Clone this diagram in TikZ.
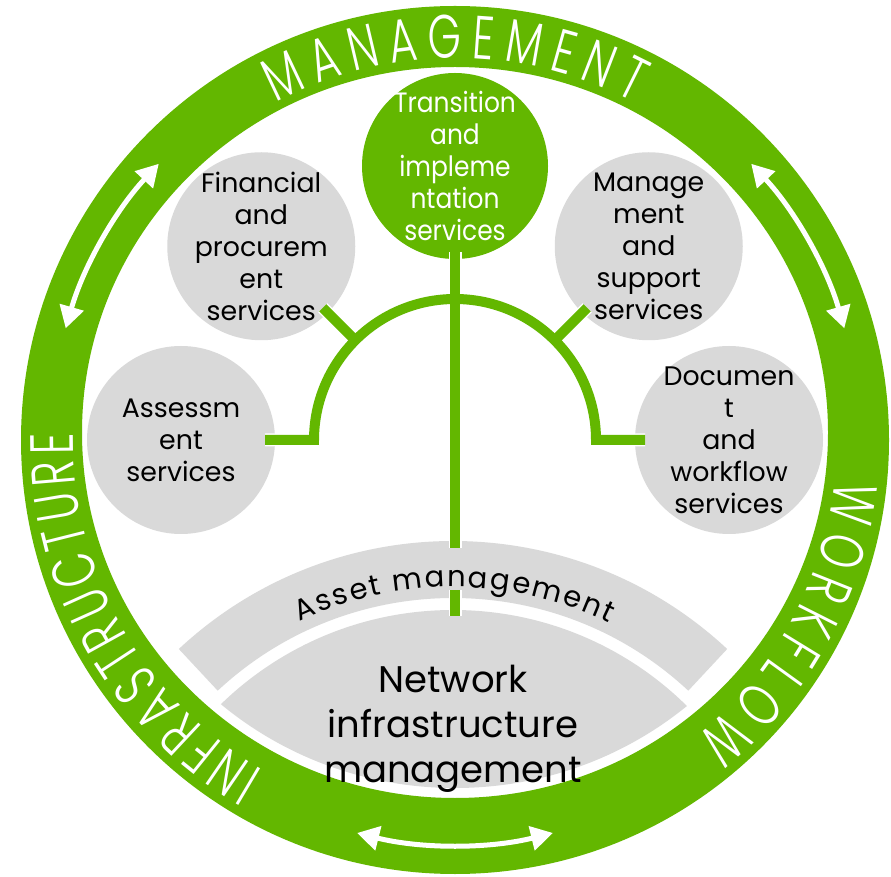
\documentclass[tikz,border=0pt]{standalone}
\usepackage{fontspec}
\setmainfont{Poppins}
\newfontfamily\ringfont[FakeStretch=0.7]{Poppins Light}
\newfontfamily\narrowfont[FakeStretch=0.89]{Poppins}
\usetikzlibrary{decorations.text,arrows.meta,calc}
\definecolor{lgreen}{HTML}{63B700}
\definecolor{lgrey}{HTML}{D9D9D9}
\tikzset{
  svc/.style={circle, fill=lgrey, minimum size=188pt, inner sep=0pt},
  svctext/.style={font=\fontsize{26.8}{32}\selectfont, align=center, inner sep=0pt},
  link/.style={draw=lgreen, line width=10pt},
  linkhalo/.style={draw=white, line width=13pt},
  ringarrow/.style={white, line width=5pt, {Triangle[length=22pt,width=24pt,fill=white]}-{Triangle[length=22pt,width=24pt,fill=white]}},
}
\begin{document}
\begin{tikzpicture}[x=1pt,y=1pt]
\useasboundingbox (0,0) rectangle (891,876);
\fill[white] (0,0) rectangle (891,876);
\coordinate (C) at (455,436);
\coordinate (hub) at (455,436);
\coordinate (B) at (453,-67);
% ring
\fill[lgreen, even odd rule] (C) circle[radius=434] (455,443.5) ellipse[x radius=373, y radius=365.5];
% ring texts
\path[decorate, decoration={text along path, text align=fit to path, text color=white,
  text={|\ringfont\fontsize{61}{61}\selectfont|MANAGEMENT}}]
  ($(C)+(118:382)$) arc[start angle=118, end angle=62, radius=382];
\path[decorate, decoration={text along path, text align=fit to path, text color=white,
  text={|\ringfont\fontsize{61}{61}\selectfont|INFRASTRUCTURE}}]
  ($(C)+(240:382)$) arc[start angle=240, end angle=179, radius=382];
\path[decorate, decoration={text along path, text align=fit to path, text color=white,
  text={|\ringfont\fontsize{61}{61}\selectfont|WORKFLOW}}]
  ($(C)+(-6:382)$) arc[start angle=-6, end angle=-51, radius=382];
% ring arrows
\draw[ringarrow] ($(C)+(137:405)$) arc[start angle=137, end angle=164, radius=405];
\draw[ringarrow] ($(C)+(43:405)$) arc[start angle=43, end angle=16, radius=405];
\draw[ringarrow] ($(C)+(256:405)$) arc[start angle=256, end angle=284, radius=405];
% asset management band
\fill[lgrey] ($(B)+(47:402)$) arc[start angle=47, end angle=133, radius=402]
  -- ($(B)+(133:345)$) arc[start angle=133, end angle=47, radius=345] -- cycle;
\path[decorate, decoration={text along path, text align=fit to path,
  text={|\fontsize{29}{29}\selectfont|Asset management}}]
  ($(B)+(115.5:356)$) arc[start angle=115.5, end angle=64, radius=356];
% network lens
\begin{scope}
  \clip (455,443.5) ellipse[x radius=363, y radius=355.5];
  \fill[lgrey] (B) circle[radius=333];
\end{scope}
\node[font=\fontsize{37}{45}\selectfont, align=center, inner sep=0pt] (net) at (453,147)
  {Network\\infrastructure\\management};
% service circles
\node[svc] (assess) at ($(hub)+(180:274)$) {};
\node[svc] (fin) at ($(hub)+(135:274)$) {};
\node[svc, fill=lgreen, minimum size=186pt] (trans) at ($(hub)+(90:274)$) {};
\node[svc] (mgmt) at ($(hub)+(45:274)$) {};
\node[svc] (doc) at ($(hub)+(0:274)$) {};
% connector coordinates
\coordinate (aL) at ($(hub)+(180:190)$);
\coordinate (aL0) at ($(hub)+(180:141)$);
\coordinate (aR) at ($(hub)+(0:190)$);
\coordinate (dL0) at ($(hub)+(135:141)$);
\coordinate (dL) at ($(hub)+(135:187)$);
\coordinate (dR0) at ($(hub)+(45:141)$);
\coordinate (dR) at ($(hub)+(45:187)$);
\coordinate (vTop) at ($(trans.center)+(0,-86)$);
\coordinate (vBot) at (455,328);
\coordinate (sTop) at (455,286);
\coordinate (sBot) at (455,260);
% halos
\draw[linkhalo] (aL) -- (aL0) arc[start angle=180, end angle=0, radius=141] -- (aR);
\draw[linkhalo] (dL0) -- (dL);
\draw[linkhalo] (dR0) -- (dR);
\draw[linkhalo] (vTop) -- (vBot);
\draw[linkhalo] (sTop) -- (sBot);
% green links
\draw[link] (aL) -- (aL0) arc[start angle=180, end angle=0, radius=141] -- (aR);
\draw[link] (dL0) -- (dL);
\draw[link] (dR0) -- (dR);
\draw[link] (vTop) -- (vBot);
\draw[link] (sTop) -- (sBot);
% texts
\node[svctext] (assessT) at (assess) {Assessm\\ent\\services};
\node[svctext] (finT) at (fin) {Financial\\and\\procurem\\ent\\services};
\node[svctext, font=\narrowfont\fontsize{28}{32}\selectfont, text=white] (transT) at (trans)
  {Transition\\and\\impleme\\ntation\\services};
\node[svctext] (mgmtT) at (mgmt) {Manage\\ment\\and\\support\\services};
\node[svctext] (docT) at (doc) {Documen\\t\\and\\workflow\\services};
\end{tikzpicture}
\end{document}
